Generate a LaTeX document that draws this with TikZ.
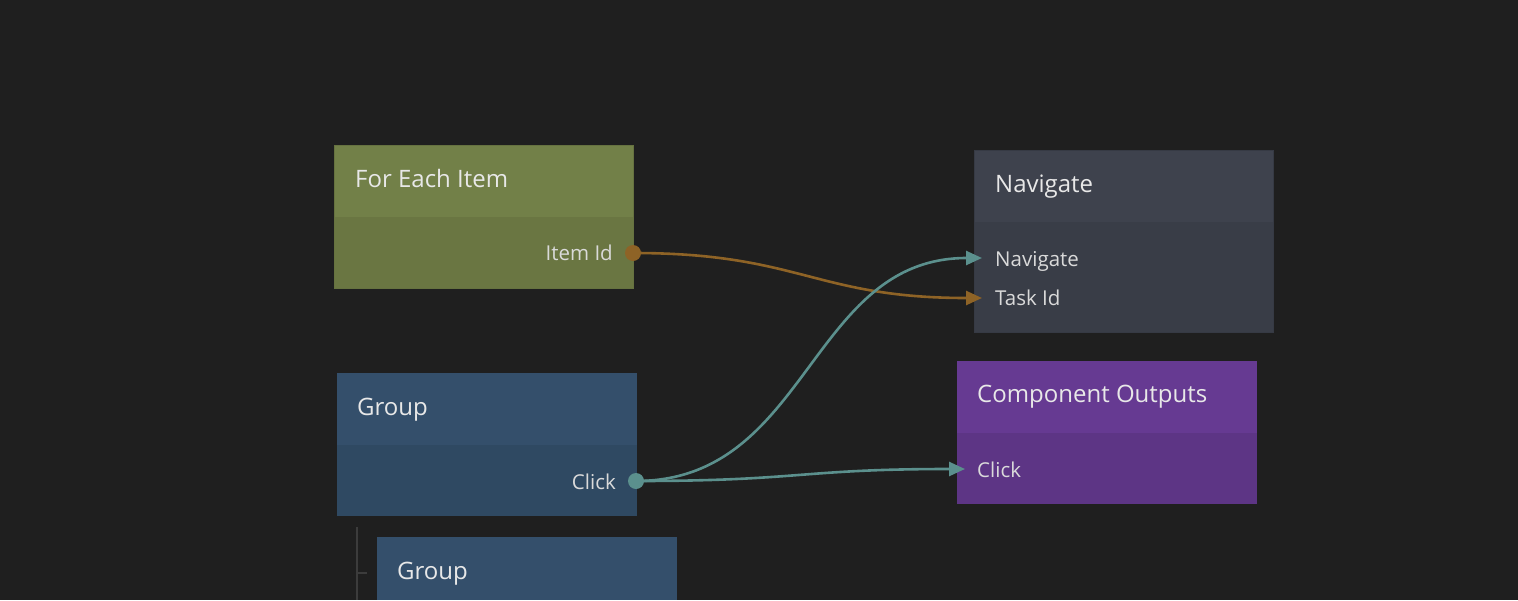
\documentclass[tikz,border=0pt]{standalone}
\usepackage{fontspec}
\setmainfont{Open Sans}
\usetikzlibrary{arrows.meta}
\definecolor{bg}{HTML}{1F1F1F}
\definecolor{feH}{HTML}{728048}
\definecolor{feB}{HTML}{6A7642}
\definecolor{feL}{HTML}{667240}
\definecolor{nvH}{HTML}{3E424D}
\definecolor{nvB}{HTML}{393D47}
\definecolor{nvL}{HTML}{363A44}
\definecolor{grH}{HTML}{344F6B}
\definecolor{grB}{HTML}{2F4962}
\definecolor{grL}{HTML}{2D465E}
\definecolor{coH}{HTML}{663A92}
\definecolor{coB}{HTML}{5D3585}
\definecolor{coL}{HTML}{5A3380}
\definecolor{teal}{HTML}{5B908D}
\definecolor{ochre}{HTML}{8E6326}
\definecolor{titletext}{HTML}{E8E8E8}
\definecolor{porttext}{HTML}{DADADA}
\definecolor{treeline}{HTML}{3C3C3C}
\tikzset{
  panel/.style={anchor=north west, inner sep=0pt, outer sep=0pt, minimum width=300pt},
  title/.style={anchor=base west, inner sep=0pt, text=titletext, font=\fontsize{24}{28}\selectfont},
  portl/.style={inner sep=0pt, text=porttext, font=\fontsize{20.5}{24}\selectfont},
  wire/.style={line width=2.6pt, -{Triangle[length=16pt,width=14pt]}},
  dot/.style={circle, inner sep=0pt, minimum size=16pt},
}
\begin{document}
\begin{tikzpicture}[x=1pt,y=-1pt]
\useasboundingbox (0,0) rectangle (1518,600);
\fill[bg] (0,0) rectangle (1518,600);

% tree line
\draw[treeline, line width=2pt] (357,527) -- (357,600);
\draw[treeline, line width=2pt] (357,572.5) -- (367,572.5);

% For Each Item
\node[panel, fill=feH, minimum height=72pt] (feh) at (334,145) {};
\node[panel, fill=feB, minimum height=72pt] (feb) at (334,217) {};
\draw[feL, line width=1pt] (334.5,145.5) rectangle (633.5,288.5);
\node[title] (fet) at (355,187) {For Each Item};
\node[portl, anchor=base east] (feport) at (613,260.7) {Item Id};
\coordinate (itemid) at (633,253);

% Navigate
\node[panel, fill=nvH, minimum height=71.5pt] (nvh) at (974,150) {};
\node[panel, fill=nvB, minimum height=111.5pt] (nvb) at (974,221.5) {};
\draw[nvL, line width=1pt] (974.5,150.5) rectangle (1273.5,332.5);
\node[title] (nvt) at (995,192.5) {Navigate};
\node[portl, anchor=base west] (nvp1) at (995,266) {Navigate};
\node[portl, anchor=base west] (nvp2) at (995,305.7) {Task Id};
\coordinate (navin) at (982,258);
\coordinate (taskin) at (982,298);

% Group
\node[panel, fill=grH, minimum height=72pt] (grh) at (337,373) {};
\node[panel, fill=grB, minimum height=71pt] (grb) at (337,445) {};
\node[title] (grt) at (357,415) {Group};
\node[portl, anchor=base east] (grport) at (616,489) {Click};
\coordinate (click) at (636,481);

% Component Outputs
\node[panel, fill=coH, minimum height=72pt] (coh) at (957,361) {};
\node[panel, fill=coB, minimum height=71pt] (cob) at (957,433) {};
\node[title] (cot) at (977,402.7) {Component Outputs};
\node[portl, anchor=base west] (coport) at (977,477.3) {Click};
\coordinate (clickin) at (965,469);

% Group 2
\node[panel, fill=grH, minimum height=63pt] (gr2h) at (377,537) {};
\node[title] (gr2t) at (397,579.3) {Group};

% connectors
\draw[wire, ochre] (itemid) .. controls +(167,0) and +(-167,0) .. (taskin);
\draw[wire, teal] (click) .. controls +(173,0) and +(-173,0) .. (navin);
\draw[wire, teal] (click) .. controls +(165,0) and +(-165,0) .. (clickin);

\node[dot, fill=ochre] (itemdot) at (itemid) {};
\node[dot, fill=teal] (clickdot) at (click) {};
\end{tikzpicture}
\end{document}
